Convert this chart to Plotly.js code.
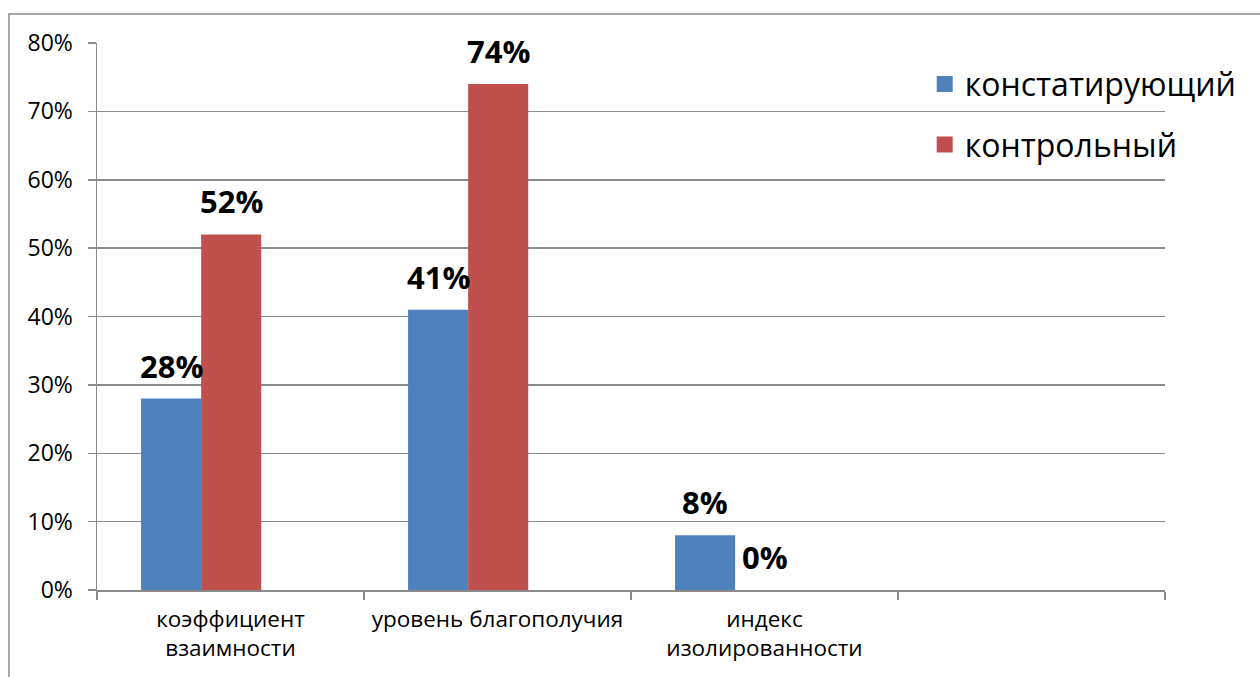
<!DOCTYPE html>
<html>
<head>
<meta charset="utf-8">
<script src="https://cdn.plot.ly/plotly-3.0.1.min.js"></script>
<style>html,body{margin:0;padding:0;background:#fff;}#chart{width:1260px;height:677px;}</style>
</head>
<body>
<div id="chart"></div>
<script>
// Data
const categories = ['коэффициент<br>взаимности', 'уровень благополучия', 'индекс<br>изолированности'];
const seriesNames = ['констатирующий', 'контрольный'];
const constatValues = [0.28, 0.41, 0.08];
const controlValues = [0.52, 0.74, 0.00];
const yTickVals = [0, 0.1, 0.2, 0.3, 0.4, 0.5, 0.6, 0.7, 0.8];

const blue = '#4F81BD';
const red = '#C0504D';
const grid = '#8a8a8a';
const FONT = '"Open Sans", "Noto Sans", sans-serif';

const idx = categories.map((c, i) => i);
const barWidth = 0.225;
const offsets = [-0.335, -0.11];

const traces = [
  {type: 'bar', x: idx, y: constatValues, width: barWidth, offset: offsets[0],
   marker: {color: blue}, showlegend: false, hoverinfo: 'skip'},
  {type: 'bar', x: idx, y: controlValues, width: barWidth, offset: offsets[1],
   marker: {color: red}, showlegend: false, hoverinfo: 'skip'},
  {type: 'scatter', mode: 'markers', x: [null], y: [null], name: seriesNames[0],
   legendgroup: 'a', marker: {symbol: 'square', size: 16, color: blue}},
  {type: 'scatter', mode: 'markers', x: [null], y: [null], name: seriesNames[1],
   legendgroup: 'b', marker: {symbol: 'square', size: 16, color: red}}
];

const annotations = [];
[constatValues, controlValues].forEach((vals, s) => {
  vals.forEach((v, i) => {
    annotations.push({
      x: i + offsets[s] + barWidth / 2, y: v, xref: 'x', yref: 'y',
      text: Math.round(v * 100) + '%', showarrow: false,
      xanchor: 'center', yanchor: 'middle', yshift: 33,
      font: {family: FONT, size: 31, color: '#000', weight: 'bold'}
    });
  });
});

const layout = {
  width: 1260, height: 677,
  margin: {l: 97, r: 95, t: 43, b: 87},
  paper_bgcolor: '#fff', plot_bgcolor: '#fff',
  font: {family: FONT, color: '#000'},
  xaxis: {
    range: [-0.5, 3.5], tickmode: 'array', tickvals: idx, ticktext: categories,
    ticks: '', showgrid: false, zeroline: false,
    showline: true, linecolor: grid, linewidth: 1.5,
    tickfont: {family: FONT, size: 22.5, color: '#000'},
    ticklabelstandoff: 8,
    minor: {tickmode: 'linear', tick0: -0.5, dtick: 1, ticks: 'outside', ticklen: 8,
            tickcolor: grid, tickwidth: 1.5, showgrid: false}
  },
  yaxis: {
    range: [0, 0.8], tickmode: 'array', tickvals: yTickVals, tickformat: '.0%',
    ticks: 'outside', ticklen: 8, tickcolor: grid, tickwidth: 1.5,
    showgrid: true, gridcolor: grid, gridwidth: 1.5, zeroline: false,
    showline: true, linecolor: grid, linewidth: 1.5,
    tickfont: {family: FONT, size: 23, color: '#000'},
    ticklabelstandoff: 10
  },
  legend: {
    x: 0.775, y: 0.975, xanchor: 'left', yanchor: 'top',
    font: {family: FONT, size: 32, color: '#000'},
    traceorder: 'grouped', tracegroupgap: 16,
    bgcolor: 'rgba(0,0,0,0)'
  },
  shapes: [{
    type: 'rect', xref: 'paper', yref: 'paper',
    x0: -0.0824, x1: 1.3, y0: -0.3, y1: 1.053,
    line: {color: '#8c8c8c', width: 1.5}, fillcolor: 'rgba(0,0,0,0)', layer: 'below'
  }],
  annotations: annotations,
  showlegend: true
};

Plotly.newPlot('chart', traces, layout, {displayModeBar: false, staticPlot: true});
</script>
</body>
</html>
